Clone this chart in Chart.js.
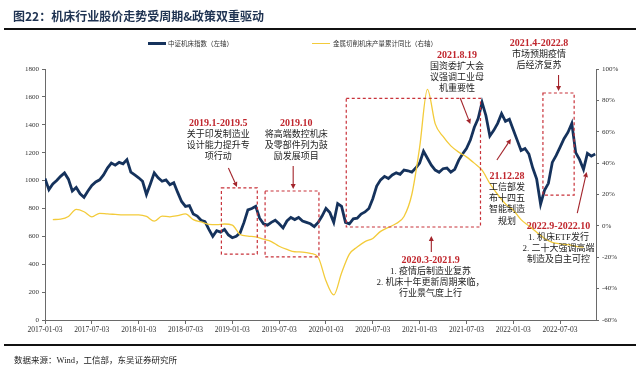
<!DOCTYPE html>
<html>
<head>
<meta charset="utf-8">
<script src="https://cdn.jsdelivr.net/npm/chart.js@4.4.0/dist/chart.umd.min.js"></script>
<style>
  html, body { margin: 0; padding: 0; background: #fff; }
  #wrap { position: relative; width: 640px; height: 374px; overflow: hidden; font-family: "Noto Sans CJK SC", sans-serif; }
  #chart { position: absolute; left: 0; top: 0; }
  #title { position: absolute; left: 13px; top: 7px; font-size: 12px; font-weight: bold; color: #1f3352; white-space: nowrap; }
  .rule { position: absolute; left: 4px; width: 632px; height: 2px; background: #111; }
  #source { position: absolute; left: 14px; top: 353px; font-size: 8.5px; color: #222; white-space: nowrap; font-family: "Liberation Serif", "Noto Sans CJK SC", serif; }
  .legSwatch { position: absolute; }
  .legText { position: absolute; font-size: 6.5px; color: #333; white-space: nowrap; }
</style>
</head>
<body>
<div id="wrap">
  <canvas id="chart" width="640" height="374"></canvas>
  <div id="title">图22：机床行业股价走势受周期&amp;政策双重驱动</div>
  <div class="rule" style="top:28px"></div>
  <div class="legSwatch" style="left:148px;top:42px;width:18px;height:2.5px;background:#15325c"></div>
  <div class="legText" style="left:168px;top:38px">中证机床指数（左轴）</div>
  <div class="legSwatch" style="left:312px;top:42.5px;width:18px;height:1.3px;background:#f3cb3a"></div>
  <div class="legText" style="left:333px;top:38px">金属切削机床产量累计同比（右轴）</div>
  <div class="rule" style="top:344px"></div>
  <div id="source">数据来源：Wind，工信部，东吴证券研究所</div>
</div>
<script>
// x axis is in months since 2017-01-03
const tickMonths = [0, 6, 12, 18, 24, 30, 36, 42, 48, 54, 60, 66];
const tickLabels = ['2017-01-03', '2017-07-03', '2018-01-03', '2018-07-03', '2019-01-03', '2019-07-03',
  '2020-01-03', '2020-07-03', '2021-01-03', '2021-07-03', '2022-01-03', '2022-07-03'];

// 中证机床指数, one reading every half month from 2017-01
const indexStep = 0.5;
const indexValues = [
  1015, 935, 975, 1000, 1030, 1055, 1010, 925, 950, 905, 880, 925,
  965, 990, 1005, 1040, 1090, 1125, 1110, 1130, 1120, 1150, 1060, 1040,
  1020, 995, 900, 975, 1055, 1020, 995, 1005, 970, 985, 915, 850,
  815, 820, 760, 745, 715, 705, 650, 600, 640, 630, 650, 610,
  590, 600, 625, 700, 790, 800, 815, 730, 690, 680, 700, 715,
  690, 660, 710, 735, 720, 735, 710, 700, 690, 670, 700, 745,
  800, 770, 700, 835, 815, 700, 690, 725, 730, 760, 775, 800,
  870, 960, 1005, 1030, 1015, 1040, 1055, 1045, 1075, 1070, 1060, 1090,
  1125, 1210, 1160, 1110, 1075, 1060, 1085, 1090, 1060, 1080, 1145, 1190,
  1230, 1290, 1380, 1445, 1560, 1465, 1320, 1360, 1410, 1480, 1425, 1440,
  1365, 1290, 1215, 1230, 1190, 1090, 1010, 830, 930, 980, 1130, 1180,
  1240, 1300, 1345, 1410, 1200, 1150, 1080, 1195, 1175, 1190
];

// 金属切削机床产量累计同比 (%), monthly from 2017-02
const outputStartMonth = 1;
const outputYoY = [
  4, 4.3, 6, 10.5, 9, 5.8, 8, 7.6, 7.3, 7, 7, 7,
  6, 3, 6.2, 5.8, 6.5, 7.6, 4, 2.5, 1, 0.8, 1.2, 0.5,
  -5.5, -6.5, -7, -8.5, -10, -13, -15, -16.5, -16.7, -17.5, -20, -35,
  -44, -30, -18, -13.5, -10, -8, -3.5, -1, 1.5, 6, 20, 50,
  87, 65, 57, 51, 47, 44, 40, 35.5, 27, 20, 14, 10,
  4, 0, -4, -8, -10.5, -11.5, -12, -13, -13.5
];

// annotations, in (month, index value) coordinates
const noteBoxes = [
  { x0: 22.6, x1: 27.2, y0: 473, y1: 947 },
  { x0: 28.2, x1: 35.1, y0: 452, y1: 925 },
  { x0: 38.6, x1: 55.8, y0: 667, y1: 1590 },
  { x0: 63.8, x1: 67.8, y0: 896, y1: 1628 }
];
const noteArrows = [
  { from: [23.5, 1090], to: [24.6, 954] },
  { from: [31.8, 1104], to: [31.8, 939] },
  { from: [49.5, 488], to: [49.5, 602] },
  { from: [53.2, 1592], to: [54.5, 1405] },
  { from: [57.9, 1147], to: [59.7, 1298] },
  { from: [65.8, 1757], to: [65.8, 1642] },
  { from: [68.2, 767], to: [69.4, 1061] }
];
const noteTexts = [
  { at: [22.2, 1413], head: '2019.1-2019.5', lines: ['关于印发制造业', '设计能力提升专', '项行动'] },
  { at: [32.2, 1413], head: '2019.10', lines: ['将高端数控机床', '及零部件列为鼓', '励发展项目'] },
  { at: [52.8, 1900], head: '2021.8.19', lines: ['国资委扩大会', '议强调工业母', '机重要性'] },
  { at: [63.3, 1986], head: '2021.4-2022.8', lines: ['市场预期疫情', '后经济复苏'] },
  { at: [49.4, 430], head: '2020.3-2021.9', lines: ['1. 疫情后制造业复苏', '2. 机床十年更新周期来临，', '行业景气度上行'] },
  { at: [59.2, 1033], head: '21.12.28', lines: ['工信部发', '布十四五', '智能制造', '规划'] },
  { at: [65.8, 674], head: '2022.9-2022.10', lines: ['1. 机床ETF发行', '2. 二十大强调高端', '制造及自主可控'] }
];

const notesPlugin = {
  id: 'notes',
  afterDatasetsDraw(chart) {
    const { ctx, scales: { x, y } } = chart;
    const px = p => [x.getPixelForValue(p[0]), y.getPixelForValue(p[1])];
    ctx.save();

    // dashed boxes
    ctx.strokeStyle = '#c8323a';
    ctx.lineWidth = 1.2;
    ctx.setLineDash([3, 2.5]);
    noteBoxes.forEach(b => {
      const l = x.getPixelForValue(b.x0), r = x.getPixelForValue(b.x1);
      const t = y.getPixelForValue(b.y1), btm = y.getPixelForValue(b.y0);
      ctx.strokeRect(l, t, r - l, btm - t);
    });
    ctx.setLineDash([]);

    // arrows
    ctx.strokeStyle = '#a3242b';
    ctx.fillStyle = '#a3242b';
    ctx.lineWidth = 1.1;
    noteArrows.forEach(a => {
      const [x1, y1] = px(a.from), [x2, y2] = px(a.to);
      const ang = Math.atan2(y2 - y1, x2 - x1);
      const hx = x2 - 5 * Math.cos(ang), hy = y2 - 5 * Math.sin(ang);
      ctx.beginPath();
      ctx.moveTo(x1, y1);
      ctx.lineTo(hx, hy);
      ctx.stroke();
      ctx.beginPath();
      ctx.moveTo(x2, y2);
      ctx.lineTo(hx + 2.5 * Math.sin(ang), hy - 2.5 * Math.cos(ang));
      ctx.lineTo(hx - 2.5 * Math.sin(ang), hy + 2.5 * Math.cos(ang));
      ctx.closePath();
      ctx.fill();
    });

    // texts
    ctx.textAlign = 'center';
    ctx.textBaseline = 'middle';
    noteTexts.forEach(n => {
      const [cx, cy] = px(n.at);
      ctx.font = 'bold 10px "Liberation Serif", "Noto Sans CJK SC", serif';
      ctx.fillStyle = '#c0262d';
      ctx.fillText(n.head, cx, cy);
      ctx.font = '9px "Liberation Serif", "Noto Sans CJK SC", serif';
      ctx.fillStyle = '#222';
      n.lines.forEach((s, i) => ctx.fillText(s, cx, cy + 11.3 * (i + 1)));
    });
    ctx.restore();
  }
};

const tickFont = { family: '"Liberation Serif", serif', size: 7 };
const axisColor = '#6a6a6a';

new Chart(document.getElementById('chart'), {
  type: 'line',
  data: {
    datasets: [
      {
        label: '金属切削机床产量累计同比（右轴）',
        data: outputYoY.map((v, i) => ({ x: outputStartMonth + i, y: v })),
        yAxisID: 'y1',
        borderColor: '#f3cb3a',
        borderWidth: 1.3,
        cubicInterpolationMode: 'monotone',
        pointRadius: 0
      },
      {
        label: '中证机床指数（左轴）',
        data: indexValues.map((v, i) => ({ x: i * indexStep, y: v })),
        yAxisID: 'y',
        borderColor: '#15325c',
        borderWidth: 2.8,
        tension: 0,
        pointRadius: 0
      }
    ]
  },
  options: {
    responsive: false,
    animation: false,
    layout: { padding: { top: 69, bottom: 34, left: 0, right: 0 } },
    plugins: { legend: { display: false }, tooltip: { enabled: false } },
    scales: {
      x: {
        type: 'linear',
        min: 0,
        max: 70.6,
        afterBuildTicks(s) { s.ticks = tickMonths.map(v => ({ value: v })); },
        afterFit(s) { s.height = 20; },
        ticks: {
          autoSkip: false, maxRotation: 0, padding: 2, color: '#333',
          font: { family: '"Liberation Serif", serif', size: 7.5 },
          callback: (v, i) => tickLabels[i]
        },
        grid: { drawOnChartArea: false, drawTicks: true, tickLength: 4, color: axisColor },
        border: { color: axisColor }
      },
      y: {
        position: 'left',
        min: 0,
        max: 1800,
        afterFit(s) { s.width = 45; },
        ticks: { stepSize: 200, color: '#333', font: tickFont, padding: 3, callback: v => String(v) },
        grid: { drawOnChartArea: false, drawTicks: true, tickLength: 3, color: axisColor },
        border: { color: axisColor }
      },
      y1: {
        position: 'right',
        min: -60,
        max: 100,
        afterFit(s) { s.width = 44; },
        ticks: { stepSize: 20, color: '#333', font: tickFont, padding: 3, callback: v => v + '%' },
        grid: { drawOnChartArea: false, drawTicks: true, tickLength: 3, color: axisColor },
        border: { color: axisColor }
      }
    }
  },
  plugins: [notesPlugin]
});
</script>
</body>
</html>
